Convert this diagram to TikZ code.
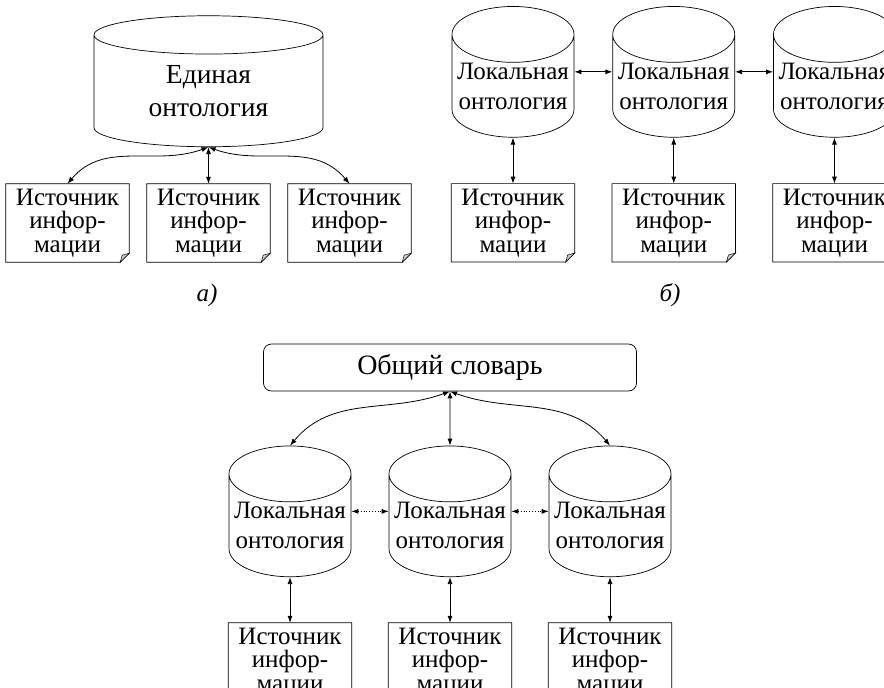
\documentclass[tikz,border=0pt]{standalone}
\usepackage{fontspec}
\setmainfont{Liberation Serif}
\usetikzlibrary{shapes.geometric, positioning, arrows.meta}

\begin{document}
\begin{tikzpicture}[x=1pt, y=1pt,
    >={Latex[length=7pt, width=5pt]},
    onto/.style={draw, line width=0.7pt, cylinder, shape border rotate=90, aspect=0.5,
        minimum width=122pt, minimum height=124pt, inner sep=0pt, align=center,
        font=\fontsize{25}{30}\selectfont},
    bigonto/.style={onto, aspect=0.32, minimum width=229pt, minimum height=131pt,
        font=\fontsize{27.5}{32.5}\selectfont},
    src/.style={minimum width=123pt, minimum height=78pt, inner sep=0pt, align=center,
        font=\fontsize{25}{23.5}\selectfont},
    vocab/.style={draw, line width=0.7pt, rounded corners=8pt, minimum width=373pt,
        minimum height=47pt, font=\fontsize{28}{32}\selectfont},
    caption/.style={font=\fontsize{25}{30}\selectfont\itshape},
    link/.style={<->, line width=0.8pt},
    edge from parent/.style={draw, link},
    straight/.style={edge from parent path={(\tikzparentnode\tikzparentanchor) -- (\tikzchildnode\tikzchildanchor)}},
    bendleft/.style={edge from parent path={(\tikzparentnode.south) to[out=200, in=50] (\tikzchildnode.north)}},
    bendright/.style={edge from parent path={(\tikzparentnode.south) to[out=-20, in=130] (\tikzchildnode.north)}}]

\useasboundingbox (0,0) rectangle (884,-688);

% a) one ontology
\node[bigonto] (ed) at (208.5,-91) {Единая\\онтология}
    [level 1/.style={level distance=132pt, sibling distance=141pt}]
    child[bendleft] {node[src] (sa1) {Источник\\инфор-\\мации}}
    child {node[src] (sa2) {Источник\\инфор-\\мации}}
    child[bendright] {node[src] (sa3) {Источник\\инфор-\\мации}};
\node[caption] (capa) at (207,-295) {а)};

% b) local ontologies
\node[onto] (lo1) at (513,-86) {Локальная\\онтология};
\node[onto, right=38pt of lo1] (lo2) {Локальная\\онтология};
\node[onto, right=38pt of lo2] (lo3) {Локальная\\онтология};
\foreach \i in {1,2,3} {
    \node[src, below=46pt of lo\i] (sb\i) {Источник\\инфор-\\мации};
    \draw[link] (lo\i) -- (sb\i);
}
\draw[link] (lo1.shape center -| lo1.east) -- (lo2.shape center -| lo2.west);
\draw[link] (lo2.shape center -| lo2.east) -- (lo3.shape center -| lo3.west);
\node[caption] (capb) at (670,-295) {б)};

% c) shared vocabulary
\node[vocab] (ob) at (450,-367.5) {Общий словарь}
    [level 1/.style={level distance=158pt, sibling distance=160pt},
     level 2/.style={level distance=136.5pt}]
    child[bendleft] {node[onto] (lc1) {Локальная\\онтология}
        child[straight] {node[src] (sc1) {Источник\\инфор-\\мации}}}
    child {node[onto] (lc2) {Локальная\\онтология}
        child[straight] {node[src] (sc2) {Источник\\инфор-\\мации}}}
    child[bendright] {node[onto] (lc3) {Локальная\\онтология}
        child[straight] {node[src] (sc3) {Источник\\инфор-\\мации}}};
\draw[link, dotted] (lc1.shape center -| lc1.east) -- (lc2.shape center -| lc2.west);
\draw[link, dotted] (lc2.shape center -| lc2.east) -- (lc3.shape center -| lc3.west);

% sheets with a folded corner
\foreach \n in {sa1,sa2,sa3,sb1,sb2,sb3,sc1,sc2,sc3} {
    \draw[line width=0.7pt] (\n.north west) -- (\n.north east) -- ([yshift=9pt]\n.south east)
        -- ([xshift=-9pt]\n.south east) -- (\n.south west) -- cycle;
    \draw[line width=0.5pt, fill=gray!40] ([xshift=-9pt]\n.south east) -- ([xshift=-7pt, yshift=7pt]\n.south east)
        -- ([yshift=9pt]\n.south east) -- cycle;
}

\end{tikzpicture}
\end{document}
